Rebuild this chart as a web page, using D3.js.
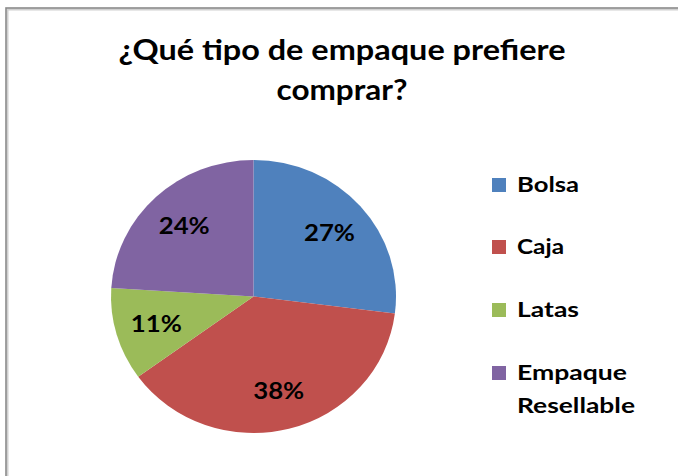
<!DOCTYPE html>
<html>
<head>
<meta charset="utf-8">
<script src="https://cdn.jsdelivr.net/npm/d3@7"></script>
<style>
  html, body { margin: 0; padding: 0; background: #fff; }
  svg { display: block; }
  text { font-family: Lato, "Open Sans", sans-serif; font-weight: bold; fill: #000; }
</style>
</head>
<body>
<script>
// ---- data ----
const titleLines = ["¿Qué tipo de empaque prefiere", "comprar?"];
const categories = ["Bolsa", "Caja", "Latas", "Empaque Resellable"];
const legendLines = [["Bolsa"], ["Caja"], ["Latas"], ["Empaque", "Resellable"]];
const values = [27, 38, 11, 24];
const colors = ["#4F81BD", "#C0504D", "#9BBB59", "#8064A2"];

const W = 678, H = 476;
const cx = 253.5, cy = 296.5, ry = 136.5, rx = 142.5;
const layout = {
  titleWidths: [447, 131],
  legendWidths: [[62], [47], [62], [110, 118]],
  labelWidth: 51
};

const svg = d3.select("body").append("svg").attr("width", W).attr("height", H);

// frame
svg.append("rect").attr("x", 7.5).attr("y", 9.5).attr("width", W + 10).attr("height", H + 10)
  .attr("fill", "none").attr("stroke", "#d0d0d0").attr("stroke-width", 2);
svg.append("rect").attr("x", 6).attr("y", 8).attr("width", W + 10).attr("height", H + 10)
  .attr("fill", "none").attr("stroke", "#8a8a8a").attr("stroke-width", 1.6);

// title
svg.append("g").selectAll("text").data(titleLines).join("text")
  .attr("text-anchor", "middle")
  .style("font-size", "28px")
  .attr("x", 342).attr("y", (d, i) => 60 + i * 40)
  .attr("textLength", (d, i) => layout.titleWidths[i])
  .attr("lengthAdjust", "spacingAndGlyphs")
  .text(d => d);

// pie
const pie = d3.pie().value(d => d).sort(null);
const arcs = pie(values);
const arc = d3.arc().innerRadius(0).outerRadius(ry);
const labelArc = d3.arc().innerRadius(97).outerRadius(97);

const g = svg.append("g").attr("transform", `translate(${cx},${cy}) scale(${rx / ry},1)`);
g.selectAll("path").data(arcs).join("path")
  .attr("d", arc)
  .attr("fill", (d, i) => colors[i]);

svg.append("g").attr("transform", `translate(${cx},${cy})`)
  .selectAll("text").data(arcs).join("text")
  .attr("x", d => labelArc.centroid(d)[0] * rx / ry)
  .attr("y", d => labelArc.centroid(d)[1])
  .attr("dy", "0.36em")
  .attr("text-anchor", "middle")
  .style("font-size", "23px")
  .attr("textLength", layout.labelWidth)
  .attr("lengthAdjust", "spacingAndGlyphs")
  .text(d => d.data + "%");

// legend
const legY = [192, 254, 317, 380];
const leg = svg.append("g");
categories.forEach((c, i) => {
  leg.append("rect").attr("x", 492).attr("y", legY[i] - 14).attr("width", 14).attr("height", 14)
    .attr("fill", colors[i]);
  leg.selectAll(null).data(legendLines[i]).join("text")
    .style("font-size", "21px")
    .attr("x", 517).attr("y", (d, j) => legY[i] + j * 33)
    .attr("textLength", (d, j) => layout.legendWidths[i][j])
    .attr("lengthAdjust", "spacingAndGlyphs")
    .text(d => d);
});
</script>
</body>
</html>
